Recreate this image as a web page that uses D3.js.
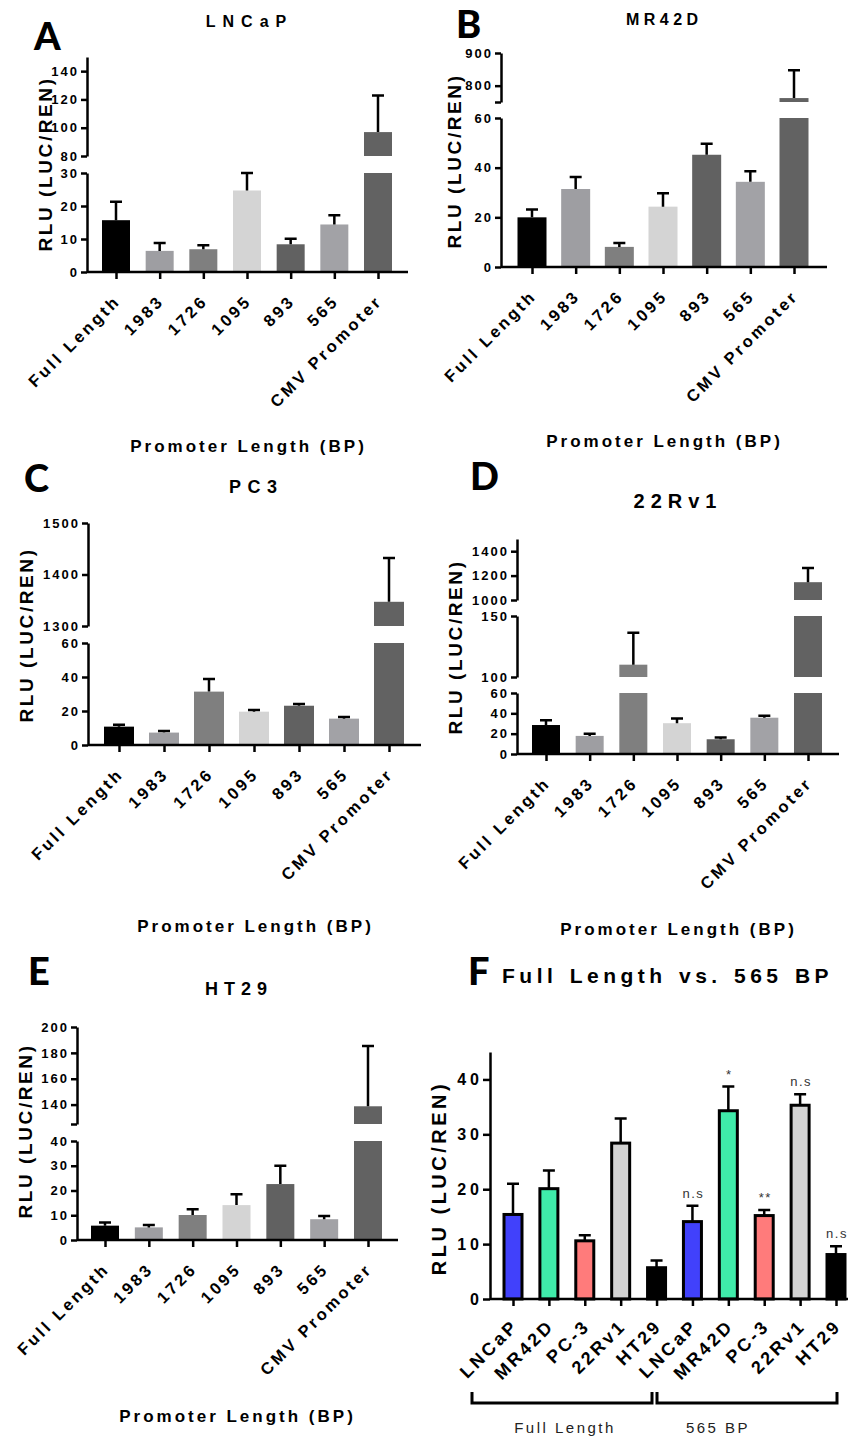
<!DOCTYPE html>
<html lang="en">
<head>
  <meta charset="UTF-8">
  <title>Promoter luciferase assays</title>
  <script src="https://d3js.org/d3.v7.min.js"></script>
  <style>
    body { margin: 0; background: #fff; }
    svg { display: block; font-family: "Liberation Sans", Arial, sans-serif; }
    .axis path, .axis line { stroke: #000; stroke-width: 2.5px; }
    .axis text { fill: #000; font-weight: bold; }
    .err { stroke: #000; stroke-width: 2.5px; fill: none; }
    .bold { font-weight: bold; fill: #000; }
    .letter { font-family: Lato, "Open Sans", Arial, sans-serif; font-weight: 900; font-size: 38px; fill: #000; }
  </style>
</head>
<body>
<svg id="fig" width="856" height="1438"></svg>
<script>
  // categories
  const promoters = ["Full Length", "1983", "1726", "1095", "893", "565", "CMV Promoter"];
  const grayFills = ["#000000", "#9e9ea2", "#7f7f7f", "#d4d4d4", "#616161", "#a2a2a6", "#626262"];

  // mean and error (SEM)
  const lncapMean = [15.7, 6.4, 6.9, 24.7, 8.4, 14.4, 96.9];
  const lncapSem  = [5.6, 2.4, 1.2, 5.3, 1.7, 2.8, 25.8];
  const mr42dMean = [20.0, 31.4, 8.1, 24.3, 45.2, 34.3, 762];
  const mr42dSem  = [3.2, 4.8, 1.6, 5.4, 4.4, 4.3, 85];
  const pc3Mean   = [10.8, 7.3, 31.4, 19.6, 23.1, 15.5, 1347];
  const pc3Sem    = [1.1, 1.0, 7.4, 1.0, 1.0, 1.0, 85];
  const rv1Mean   = [28.5, 17.8, 110.1, 30.3, 14.5, 35.7, 1146];
  const rv1Sem    = [4.8, 2.0, 26.2, 4.6, 1.8, 2.0, 116];
  const ht29Mean  = [5.8, 5.1, 10.1, 14.1, 22.6, 8.4, 138.7];
  const ht29Sem   = [1.3, 1.0, 2.3, 4.4, 7.4, 1.3, 46.7];

  // panel F
  const cellLines = ["LNCaP", "MR42D", "PC-3", "22Rv1", "HT29"];
  const cellColors = ["#4141fb", "#3fecaa", "#ff7b7b", "#d3d3d3", "#000000"];
  const fullLengthMean = [15.4, 20.1, 10.6, 28.4, 5.7];
  const fullLengthSem  = [5.6, 3.3, 1.0, 4.5, 1.3];
  const bp565Mean = [14.1, 34.3, 15.2, 35.3, 8.1];
  const bp565Sem  = [2.9, 4.4, 1.0, 2.0, 1.5];
  const sigLabels = ["n.s", "*", "**", "n.s", "n.s"];

  const svg = d3.select("#fig");

  const panels = [
    { letter: "A", title: "LNCaP", mean: lncapMean, sem: lncapSem,
      axisX: 87, xEnd: 408, xFirst: 116, xLast: 378, barW: 28,
      segments: [
        { domain: [0, 30], range: [272, 173], ticks: [0, 10, 20, 30] },
        { domain: [80, 150], range: [156, 57], ticks: [80, 100, 120, 140] }
      ],
      letterPos: [34, 50], titlePos: [246, 27], titleSize: 16, titleLs: 7,
      yLabelPos: [52, 164], xLabelPos: [247, 452] },
    { letter: "B", title: "MR42D", mean: mr42dMean, sem: mr42dSem,
      axisX: 501, xEnd: 827, xFirst: 532, xLast: 794, barW: 29,
      segments: [
        { domain: [0, 60], range: [267, 118], ticks: [0, 20, 40, 60] },
        { domain: [750, 900], range: [102, 53], ticks: [750, 800, 900], blank: [750] }
      ],
      letterPos: [456, 38], titlePos: [662, 25], titleSize: 16, titleLs: 4.5,
      yLabelPos: [461, 161], xLabelPos: [663, 447] },
    { letter: "C", title: "PC3", mean: pc3Mean, sem: pc3Sem,
      axisX: 88, xEnd: 421, xFirst: 119, xLast: 389, barW: 30,
      segments: [
        { domain: [0, 60], range: [745, 643], ticks: [0, 20, 40, 60] },
        { domain: [1300, 1500], range: [626, 523], ticks: [1300, 1400, 1500] }
      ],
      letterPos: [24, 492], titlePos: [253, 493], titleSize: 18, titleLs: 6.5,
      yLabelPos: [33, 635], xLabelPos: [254, 932] },
    { letter: "D", title: "22Rv1", mean: rv1Mean, sem: rv1Sem,
      axisX: 517, xEnd: 839, xFirst: 546, xLast: 808, barW: 28,
      segments: [
        { domain: [0, 60], range: [754, 693], ticks: [0, 20, 40, 60] },
        { domain: [100, 150], range: [677, 616], ticks: [100, 150] },
        { domain: [1000, 1500], range: [600, 539], ticks: [1000, 1200, 1400] }
      ],
      letterPos: [470, 490], titlePos: [675, 508], titleSize: 20, titleLs: 6,
      yLabelPos: [462, 647], xLabelPos: [677, 935] },
    { letter: "E", title: "HT29", mean: ht29Mean, sem: ht29Sem,
      axisX: 77, xEnd: 398, xFirst: 105, xLast: 368, barW: 28,
      segments: [
        { domain: [0, 40], range: [1240, 1141], ticks: [0, 10, 20, 30, 40] },
        { domain: [125, 200], range: [1124, 1027], ticks: [125, 140, 160, 180, 200], blank: [125] }
      ],
      letterPos: [28, 985], titlePos: [236, 995], titleSize: 18, titleLs: 6,
      yLabelPos: [32, 1131], xLabelPos: [236, 1422] }
  ];

  function cleanAxis(sel) {
    sel.attr("font-size", null).attr("font-family", null).attr("fill", null);
  }

  function yLabel(g, pos, size, ls) {
    g.append("text").attr("class", "bold")
      .attr("transform", `translate(${pos[0]},${pos[1]}) rotate(-90)`)
      .attr("text-anchor", "middle")
      .style("font-size", size + "px").style("letter-spacing", ls + "px")
      .text("RLU (LUC/REN)");
  }

  function drawPanel(p) {
    const g = svg.append("g");
    const x = d3.scalePoint().domain(promoters).range([p.xFirst, p.xLast]);
    const segs = p.segments.map(s => Object.assign({}, s, {
      y: d3.scaleLinear().domain(s.domain).range(s.range)
    }));
    const zeroY = segs[0].y(0);
    const rows = p.mean.map((v, i) => ({ name: promoters[i], v: v, top: v + p.sem[i], fill: grayFills[i] }));

    // bars, split across the broken axis
    segs.forEach(s => {
      g.append("g").selectAll("rect")
        .data(rows.filter(d => d.v > s.domain[0]))
        .join("rect")
        .attr("x", d => x(d.name) - p.barW / 2)
        .attr("width", p.barW)
        .attr("y", d => s.y(Math.min(d.v, s.domain[1])))
        .attr("height", d => s.y(s.domain[0]) - s.y(Math.min(d.v, s.domain[1])))
        .attr("fill", d => d.fill);
    });

    // error bars (upper only)
    rows.forEach(d => {
      const s = segs.find(s => d.v >= s.domain[0] && d.v <= s.domain[1]);
      const cx = x(d.name);
      g.append("path").attr("class", "err")
        .attr("d", `M${cx},${s.y(d.v)}V${s.y(d.top)}M${cx - 6},${s.y(d.top)}H${cx + 6}`);
    });

    // y axis pieces
    segs.forEach(s => {
      const ax = g.append("g").attr("class", "axis")
        .attr("transform", `translate(${p.axisX},0)`)
        .call(d3.axisLeft(s.y).tickValues(s.ticks).tickSize(6).tickSizeOuter(0).tickPadding(2)
          .tickFormat(v => (s.blank || []).includes(v) ? "" : v));
      cleanAxis(ax);
      ax.selectAll("text").style("font-size", "13px").style("letter-spacing", "2px");
    });

    // x axis
    const xa = g.append("g").attr("class", "axis")
      .attr("transform", `translate(0,${zeroY})`)
      .call(d3.axisBottom(x).tickSize(7).tickSizeOuter(0));
    cleanAxis(xa);
    xa.select(".domain").attr("d", `M${p.axisX},0H${p.xEnd}`);
    xa.selectAll(".tick text")
      .attr("x", 0).attr("y", 0).attr("dy", 0)
      .attr("transform", "translate(5,30) rotate(-45)")
      .attr("text-anchor", "end")
      .style("font-size", "16.5px").style("letter-spacing", "3px");

    // texts
    g.append("text").attr("class", "letter")
      .attr("x", p.letterPos[0]).attr("y", p.letterPos[1]).text(p.letter);
    g.append("text").attr("class", "bold")
      .attr("x", p.titlePos[0] + p.titleLs / 2).attr("y", p.titlePos[1])
      .attr("text-anchor", "middle")
      .style("font-size", p.titleSize + "px").style("letter-spacing", p.titleLs + "px")
      .text(p.title);
    yLabel(g, p.yLabelPos, 19, 2.6);
    g.append("text").attr("class", "bold")
      .attr("x", p.xLabelPos[0] + 1.5).attr("y", p.xLabelPos[1])
      .attr("text-anchor", "middle")
      .style("font-size", "17px").style("letter-spacing", "3px")
      .text("Promoter Length (BP)");
  }

  panels.forEach(drawPanel);

  // ---- panel F ----
  (function () {
    const g = svg.append("g");
    const rows = cellLines.map((c, i) => ({ key: "fl" + i, name: c, v: fullLengthMean[i], top: fullLengthMean[i] + fullLengthSem[i], fill: cellColors[i], sig: null }))
      .concat(cellLines.map((c, i) => ({ key: "bp" + i, name: c, v: bp565Mean[i], top: bp565Mean[i] + bp565Sem[i], fill: cellColors[i], sig: sigLabels[i] })));
    const x = d3.scalePoint().domain(rows.map(d => d.key)).range([513, 836]);
    const y = d3.scaleLinear().domain([0, 45]).range([1299, 1052]);
    const barW = 18;

    g.append("g").selectAll("rect").data(rows).join("rect")
      .attr("x", d => x(d.key) - barW / 2)
      .attr("width", barW)
      .attr("y", d => y(d.v))
      .attr("height", d => y(0) - y(d.v))
      .attr("fill", d => d.fill)
      .attr("stroke", "#000").attr("stroke-width", 3);

    rows.forEach(d => {
      const cx = x(d.key);
      g.append("path").attr("class", "err")
        .attr("d", `M${cx},${y(d.v)}V${y(d.top)}M${cx - 6},${y(d.top)}H${cx + 6}`);
    });

    g.append("g").selectAll("text").data(rows.filter(d => d.sig)).join("text")
      .attr("x", d => x(d.key) + 1).attr("y", d => y(d.top) - 8)
      .attr("text-anchor", "middle")
      .style("font-size", "13px").style("letter-spacing", "1.5px").attr("fill", "#333")
      .text(d => d.sig);

    const ya = g.append("g").attr("class", "axis").attr("transform", "translate(490,0)")
      .call(d3.axisLeft(y).tickValues([0, 10, 20, 30, 40]).tickSize(7).tickSizeOuter(0).tickPadding(0));
    cleanAxis(ya);
    ya.selectAll("text").style("font-size", "16px").style("letter-spacing", "4px");

    const xa = g.append("g").attr("class", "axis").attr("transform", `translate(0,${y(0)})`)
      .call(d3.axisBottom(x).tickSize(7).tickSizeOuter(0).tickFormat(k => rows.find(r => r.key === k).name));
    cleanAxis(xa);
    xa.select(".domain").attr("d", "M490,0H848");
    xa.selectAll(".tick text")
      .attr("x", 0).attr("y", 0).attr("dy", 0)
      .attr("transform", "translate(6,28) rotate(-45)")
      .attr("text-anchor", "end")
      .style("font-size", "18px").style("letter-spacing", "3px");

    // group brackets
    const brackets = [
      { label: "Full Length", x0: 472, x1: 652, cx: 565 },
      { label: "565 BP", x0: 657, x1: 837, cx: 718 }
    ];
    brackets.forEach(b => {
      g.append("path").attr("fill", "none").attr("stroke", "#000").attr("stroke-width", 3)
        .attr("d", `M${b.x0},1392V1403H${b.x1}V1392`);
      g.append("text").attr("x", b.cx).attr("y", 1433).attr("text-anchor", "middle")
        .style("font-size", "15px").style("letter-spacing", "2.5px").attr("fill", "#222")
        .text(b.label);
    });

    g.append("text").attr("class", "letter").attr("x", 468).attr("y", 985).text("F");
    g.append("text").attr("class", "bold").attr("x", 502).attr("y", 983)
      .style("font-size", "21px").style("letter-spacing", "4.5px").style("word-spacing", "2px")
      .text("Full Length vs. 565 BP");
    yLabel(g, [446, 1178], 20, 3.5);
  })();
</script>
</body>
</html>
